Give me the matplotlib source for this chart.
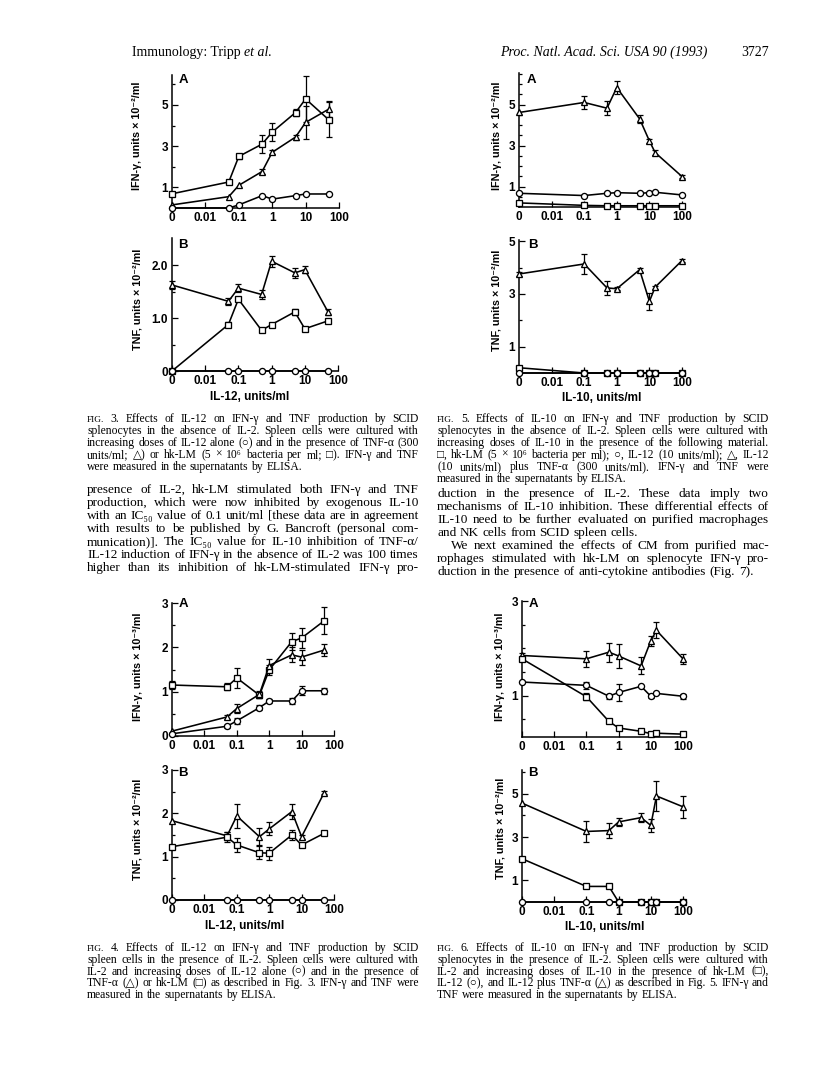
import numpy as np
import matplotlib
matplotlib.use("Agg")
import matplotlib.pyplot as plt
from matplotlib.ticker import FixedLocator, NullLocator

# ---- data ----
IL12_DOSE = [0, 0.05, 0.1, 0.5, 1, 5, 10, 50]
IL10_DOSE = [0, 0.1, 0.5, 1, 5, 10, 15, 100]
XTICKS = [0, 0.01, 0.1, 1, 10, 100]
XTICK_LABELS = ["0", "0.01", "0.1", "1", "10", "100"]

# Fig. 3A  IFN-g (x10^-2/ml), no IL-2
f3a_il12 = [0, 0, 0.15, 0.6, 0.43, 0.6, 0.68, 0.68]
f3a_tnf = [0.15, 0.55, 1.1, 1.77, 2.7, 3.44, 4.15, 4.8]
f3a_tnf_err = [0, 0, 0, 0.12, 0.1, 0.12, 0.8, 0.4]
f3a_hklm = [0.69, 1.26, 2.5, 3.1, 3.68, 4.63, 5.29, 4.27]
f3a_hklm_err = [0, 0, 0.1, 0.45, 0.45, 0.15, 1.1, 0.85]

# Fig. 3B  TNF (x10^-2/ml)
f3b_il12 = [0, 0, 0, 0, 0, 0, 0, 0]
f3b_tnf = [1.63, 1.32, 1.57, 1.45, 2.08, 1.86, 1.92, 1.12]
f3b_tnf_err = [0.07, 0.06, 0.08, 0.08, 0.1, 0.1, 0.07, 0.06]
f3b_hklm = [0, 0.88, 1.36, 0.77, 0.88, 1.12, 0.8, 0.95]
f3b_hklm_err = [0, 0.05, 0.04, 0.03, 0.03, 0.05, 0, 0.04]

# Fig. 5A  IFN-g (x10^-2/ml)
f5a_hklm = [0.2, 0.08, 0.06, 0.06, 0.06, 0.06, 0.06, 0.06]
f5a_il12 = [0.67, 0.56, 0.67, 0.7, 0.67, 0.7, 0.72, 0.59]
f5a_tnf = [4.62, 5.11, 4.83, 5.84, 4.31, 3.23, 2.66, 1.49]
f5a_tnf_err = [0, 0.3, 0.35, 0.3, 0.2, 0.1, 0.12, 0.08]

# Fig. 5B  TNF (x10^-2/ml)
f5b_hklm = [0.2, 0, 0, 0, 0, 0, 0, 0]
f5b_il12 = [0, 0, 0, 0, 0, 0, 0, 0]
f5b_tnf = [3.76, 4.14, 3.23, 3.2, 3.92, 2.72, 3.26, 4.27]
f5b_tnf_err = [0.08, 0.37, 0.28, 0.05, 0.07, 0.33, 0.06, 0.05]

# Fig. 4A  IFN-g (x10^-3/ml), with IL-2
f4a_hklm = [1.15, 1.11, 1.31, 0.92, 1.49, 2.13, 2.21, 2.6]
f4a_hklm_err = [0.08, 0.08, 0.23, 0.06, 0.12, 0.2, 0.22, 0.3]
f4a_tnf = [0.11, 0.43, 0.62, 0.94, 1.59, 1.83, 1.78, 1.94]
f4a_tnf_err = [0, 0.05, 0.1, 0.08, 0.15, 0.17, 0.17, 0.13]
f4a_il12 = [0.05, 0.22, 0.34, 0.64, 0.79, 0.79, 1.02, 1.02]
f4a_il12_err = [0, 0.03, 0.07, 0.05, 0.05, 0.07, 0.1, 0.07]

# Fig. 4B  TNF (x10^-2/ml)
f4b_tnf = [1.83, 1.48, 1.94, 1.46, 1.64, 2.04, 1.46, 2.48]
f4b_tnf_err = [0, 0.1, 0.28, 0.2, 0.15, 0.17, 0.05, 0.03]
f4b_hklm = [1.23, 1.45, 1.27, 1.09, 1.08, 1.5, 1.27, 1.54]
f4b_hklm_err = [0, 0.12, 0.17, 0.15, 0.15, 0.12, 0.05, 0.05]
f4b_il12 = [0, 0, 0, 0, 0, 0, 0, 0]

# Fig. 6A  IFN-g (x10^-3/ml)
f6a_tnf = [1.85, 1.78, 1.92, 1.84, 1.63, 2.16, 2.38, 1.78]
f6a_tnf_err = [0.05, 0.17, 0.2, 0.25, 0.18, 0.1, 0.17, 0.1]
f6a_il12 = [1.29, 1.22, 0.99, 1.07, 1.2, 0.99, 1.05, 0.99]
f6a_il12_err = [0, 0.07, 0.05, 0.18, 0, 0.04, 0, 0.05]
f6a_hklm = [1.78, 0.98, 0.46, 0.32, 0.25, 0.2, 0.21, 0.19]
f6a_hklm_err = [0, 0.07, 0, 0, 0, 0, 0, 0]

# Fig. 6B  TNF (x10^-2/ml)
f6b_tnf = [4.57, 3.26, 3.3, 3.7, 3.9, 3.54, 4.9, 4.4]
f6b_tnf_err = [0, 0.5, 0.35, 0.18, 0.2, 0.3, 0.7, 0.5]
f6b_hklm = [2.0, 0.72, 0.72, 0, 0, 0, 0, 0]
f6b_il12 = [0, 0, 0, 0, 0, 0, 0, 0]

# ---- page text ----
HEADER_LEFT = "Immunology: Tripp"
HEADER_RIGHT = "Proc. Natl. Acad. Sci. USA 90 (1993)"
PAGE_NO = "3727"

CAP3 = ["FIG. 3.   Effects of IL-12 on IFN-γ and TNF production by SCID",
        "splenocytes in the absence of IL-2. Spleen cells were cultured with",
        "increasing doses of IL-12 alone (○) and in the presence of TNF-α (300",
        "units/ml; △) or hk-LM (5 × 10⁶ bacteria per ml; □). IFN-γ and TNF",
        "were measured in the supernatants by ELISA."]
CAP5 = ["FIG. 5.   Effects of IL-10 on IFN-γ and TNF production by SCID",
        "splenocytes in the absence of IL-2. Spleen cells were cultured with",
        "increasing doses of IL-10 in the presence of the following material.",
        "□, hk-LM (5 × 10⁶ bacteria per ml); ○, IL-12 (10 units/ml); △, IL-12",
        "(10 units/ml) plus TNF-α (300 units/ml). IFN-γ and TNF were",
        "measured in the supernatants by ELISA."]
BODY_L = ["presence of IL-2, hk-LM stimulated both IFN-γ and TNF",
          "production, which were now inhibited by exogenous IL-10",
          "with an IC₅₀ value of 0.1 unit/ml [these data are in agreement",
          "with results to be published by G. Bancroft (personal com-",
          "munication)]. The IC₅₀ value for IL-10 inhibition of TNF-α/",
          "IL-12 induction of IFN-γ in the absence of IL-2 was 100 times",
          "higher than its inhibition of hk-LM-stimulated IFN-γ pro-"]
BODY_R = ["duction in the presence of IL-2. These data imply two",
          "mechanisms of IL-10 inhibition. These differential effects of",
          "IL-10 need to be further evaluated on purified macrophages",
          "and NK cells from SCID spleen cells.",
          "We next examined the effects of CM from purified mac-",
          "rophages stimulated with hk-LM on splenocyte IFN-γ pro-",
          "duction in the presence of anti-cytokine antibodies (Fig. 7)."]
CAP4 = ["FIG. 4.   Effects of IL-12 on IFN-γ and TNF production by SCID",
        "spleen cells in the presence of IL-2. Spleen cells were cultured with",
        "IL-2 and increasing doses of IL-12 alone (○) and in the presence of",
        "TNF-α (△) or hk-LM (□) as described in Fig. 3. IFN-γ and TNF were",
        "measured in the supernatants by ELISA."]
CAP6 = ["FIG. 6.   Effects of IL-10 on IFN-γ and TNF production by SCID",
        "splenocytes in the presence of IL-2. Spleen cells were cultured with",
        "IL-2 and increasing doses of IL-10 in the presence of hk-LM (□),",
        "IL-12 (○), and IL-12 plus TNF-α (△) as described in Fig. 5. IFN-γ and",
        "TNF were measured in the supernatants by ELISA."]

SERIF = ["Liberation Serif", "DejaVu Serif", "DejaVu Sans"]
SANS = ["Liberation Sans", "DejaVu Sans"]

W, H = 816, 1065
fig = plt.figure(figsize=(W / 100, H / 100), dpi=100)
renderer = fig.canvas.get_renderer()


def fx(x):
    return x / W


def fy(y):
    return 1 - y / H


def text_block(lines, x0, x1, y0, step, size, last_flush=(), indent=()):
    """Justified column text; y0 is baseline of the first line (pixels)."""
    for i, line in enumerate(lines):
        y = y0 + i * step
        start = x0 + (14 if i in indent else 0)
        words = line.split()
        arts = []
        for w in words:
            fs = size * 0.8 if w == "FIG." else size
            arts.append(fig.text(0, fy(y), w, fontsize=fs, family=SERIF,
                                 va="baseline", ha="left"))
        widths = [a.get_window_extent(renderer).width for a in arts]
        if i in last_flush or len(words) < 2:
            gap = size * 0.27 * 100 / 72
        else:
            gap = (x1 - start - sum(widths)) / (len(words) - 1)
        x = start
        for a, wd in zip(arts, widths):
            a.set_x(fx(x))
            x += wd + gap


def panel(l, r, b, t, ylim, major, labels, minor):
    ax = fig.add_axes([fx(l), fy(b), (r - l) / W, (b - t) / H])
    ax.set_xscale("symlog", linthresh=0.01, linscale=0.9)
    ax.set_xlim(0, 100)
    ax.set_ylim(*ylim)
    for s in ("top", "right"):
        ax.spines[s].set_visible(False)
    for s in ("left", "bottom"):
        ax.spines[s].set_linewidth(1.1)
    ax.xaxis.set_major_locator(FixedLocator(XTICKS))
    ax.set_xticklabels(XTICK_LABELS)
    ax.xaxis.set_minor_locator(NullLocator())
    ax.yaxis.set_major_locator(FixedLocator(major))
    ax.set_yticklabels(labels)
    ax.yaxis.set_minor_locator(FixedLocator(minor))
    ax.tick_params(which="both", direction="in", width=0.9, labelsize=8.5, pad=3)
    ax.tick_params(which="major", length=4)
    ax.tick_params(which="minor", length=2.5)
    for lab in ax.get_xticklabels() + ax.get_yticklabels():
        lab.set_fontweight("bold")
        lab.set_family(SANS)
    ax.patch.set_alpha(0)
    return ax


def series(ax, x, y, marker, err=None, ms=4.4):
    if err is not None:
        e = np.array(err, dtype=float)
        keep = e > 0
        ax.errorbar(np.array(x)[keep], np.array(y)[keep], yerr=e[keep], fmt="none",
                    ecolor="black", elinewidth=0.9, capsize=2.2, capthick=0.9,
                    clip_on=False, zorder=2)
    ax.plot(x, y, color="black", lw=1.15, marker=marker, ms=ms, mfc="white",
            mec="black", mew=0.95, clip_on=False, zorder=3)


def ylabel(x, yc, s):
    fig.text(fx(x), fy(yc), s, rotation=90, ha="center", va="center",
             fontsize=7.8, fontweight="bold", family=SANS)


def xlabel(xc, y, s):
    fig.text(fx(xc), fy(y), s, ha="center", va="center",
             fontsize=8.5, fontweight="bold", family=SANS)


def letter(x, y, s):
    fig.text(fx(x), fy(y), s, ha="center", va="center",
             fontsize=9.5, fontweight="bold", family=SANS)


# ---- Fig. 3 ----
ax = panel(172, 339, 208, 75, (0, 6.45), [1, 3, 5], ["1", "3", "5"], [0, 2, 4, 6])
series(ax, IL12_DOSE, f3a_hklm, "s", f3a_hklm_err)
series(ax, IL12_DOSE, f3a_tnf, "^", f3a_tnf_err, ms=4.9)
series(ax, IL12_DOSE, f3a_il12, "o")
ylabel(137, 136, "IFN-γ, units × 10⁻²/ml")
letter(183, 80, "A")

ax = panel(172, 338, 371, 238, (0, 2.52), [0, 1, 2], ["0", "1.0", "2.0"], [0.5, 1.5])
series(ax, IL12_DOSE, f3b_tnf, "^", f3b_tnf_err, ms=4.9)
series(ax, IL12_DOSE, f3b_hklm, "s", f3b_hklm_err)
series(ax, IL12_DOSE, f3b_il12, "o")
ylabel(137, 299, "TNF, units × 10⁻²/ml")
letter(183, 245, "B")
xlabel(250, 397, "IL-12, units/ml")

# ---- Fig. 5 ----
ax = panel(519, 682, 207, 73, (0, 6.55), [1, 3, 5], ["1", "3", "5"],
           [0.5, 1.5, 2, 2.5, 3.5, 4, 4.5, 5.5, 6, 6.5])
series(ax, IL10_DOSE, f5a_tnf, "^", f5a_tnf_err, ms=4.9)
series(ax, IL10_DOSE, f5a_il12, "o")
series(ax, IL10_DOSE, f5a_hklm, "s")
ylabel(497, 136, "IFN-γ, units × 10⁻²/ml")
letter(531, 80, "A")

ax = panel(519, 682, 373, 240, (0, 5.05), [1, 3, 5], ["1", "3", "5"], [0, 2, 4])
series(ax, IL10_DOSE, f5b_tnf, "^", f5b_tnf_err, ms=4.9)
series(ax, IL10_DOSE, f5b_hklm, "s")
series(ax, IL10_DOSE, f5b_il12, "o")
ylabel(497, 300, "TNF, units × 10⁻²/ml")
letter(533, 245, "B")
xlabel(602, 398, "IL-10, units/ml")

# ---- Fig. 4 ----
ax = panel(172, 334, 736, 603, (0, 3.0), [0, 1, 2, 3], ["0", "1", "2", "3"],
           [0.5, 1.5, 2.5])
series(ax, IL12_DOSE, f4a_hklm, "s", f4a_hklm_err)
series(ax, IL12_DOSE, f4a_tnf, "^", f4a_tnf_err, ms=4.9)
series(ax, IL12_DOSE, f4a_il12, "o", f4a_il12_err)
ylabel(138, 667, "IFN-γ, units × 10⁻³/ml")
letter(183, 604, "A")

ax = panel(172, 334, 900, 770, (0, 3.0), [0, 1, 2, 3], ["0", "1", "2", "3"],
           [0.5, 1.5, 2.5])
series(ax, IL12_DOSE, f4b_tnf, "^", f4b_tnf_err, ms=4.9)
series(ax, IL12_DOSE, f4b_hklm, "s", f4b_hklm_err)
series(ax, IL12_DOSE, f4b_il12, "o")
ylabel(138, 829, "TNF, units × 10⁻²/ml")
letter(183, 773, "B")
xlabel(245, 926, "IL-12, units/ml")

# ---- Fig. 6 ----
ax = panel(522, 683, 737, 601, (0.13, 3.0), [1, 3], ["1", "3"],
           [0.5, 1.5, 2, 2.5])
series(ax, IL10_DOSE, f6a_tnf, "^", f6a_tnf_err, ms=4.9)
series(ax, IL10_DOSE, f6a_il12, "o", f6a_il12_err)
series(ax, IL10_DOSE, f6a_hklm, "s", f6a_hklm_err)
ylabel(500, 667, "IFN-γ, units × 10⁻³/ml")
letter(533, 604, "A")

ax = panel(522, 683, 902, 770, (0, 6.1), [1, 3, 5], ["1", "3", "5"], [2, 4, 6])
series(ax, IL10_DOSE, f6b_tnf, "^", f6b_tnf_err, ms=4.9)
series(ax, IL10_DOSE, f6b_hklm, "s")
series(ax, IL10_DOSE, f6b_il12, "o")
ylabel(500, 828, "TNF, units × 10⁻²/ml")
letter(533, 773, "B")
xlabel(605, 927, "IL-10, units/ml")

# ---- running heads ----
t = fig.text(fx(132), fy(56), HEADER_LEFT + " ", fontsize=10, family=SERIF, va="baseline")
wd = t.get_window_extent(renderer).width
fig.text(fx(132 + wd), fy(56), "et al.", fontsize=10, family=SERIF,
         style="italic", va="baseline")
fig.text(fx(500), fy(56), HEADER_RIGHT, fontsize=10, family=SERIF,
         style="italic", va="baseline")
fig.text(fx(769), fy(56), PAGE_NO, fontsize=10, family=SERIF, va="baseline", ha="right")

# ---- captions and body text ----
text_block(CAP3, 87, 419, 422, 12, 8.4, last_flush=(4,))
text_block(CAP5, 437, 769, 422, 12, 8.4, last_flush=(5,))
text_block(BODY_L, 87, 419, 493, 13, 9.5)
text_block(BODY_R, 437, 769, 497, 13, 9.5, last_flush=(3, 6), indent=(4,))
text_block(CAP4, 87, 419, 951, 11.8, 8.4, last_flush=(4,))
text_block(CAP6, 437, 769, 951, 11.8, 8.4, last_flush=(4,))

fig.savefig("out.png", dpi=100)
